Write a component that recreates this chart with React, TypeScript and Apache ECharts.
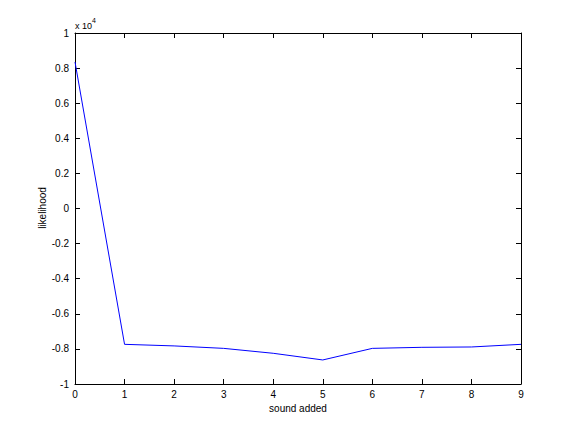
import React, { useEffect, useRef } from "react";
import * as echarts from "echarts";

const xCategories = [0, 1, 2, 3, 4, 5, 6, 7, 8, 9];
const likelihood = [8350, -7740, -7830, -7970, -8250, -8630, -7970, -7910, -7890, -7740];
const xLabel = "sound added";
const yLabel = "likelihood";

const FONT = "Liberation Sans, Arial, Helvetica, sans-serif";

export default function App() {
  const ref = useRef<HTMLDivElement>(null);
  useEffect(() => {
    if (!ref.current) return;
    const chart = echarts.init(ref.current, null, { renderer: "svg" });
    const fmtY = (v: number) => {
      const r = Math.round((v / 10000) * 10) / 10;
      return String(r);
    };
    const axisLine = { show: true, onZero: false, lineStyle: { color: "#000", width: 1 } };
    const tick = { show: true, inside: true, length: 5, lineStyle: { color: "#000" } };
    chart.setOption({
      animation: false,
      backgroundColor: "#fff",
      grid: { left: 75, right: 55, top: 33, bottom: 48, containLabel: false },
      xAxis: [
        {
          type: "value",
          min: 0,
          max: 9,
          interval: 1,
          position: "bottom",
          name: xLabel,
          nameLocation: "middle",
          nameGap: 17,
          nameTextStyle: { fontFamily: FONT, fontSize: 10, color: "#000" },
          axisLine,
          axisTick: tick,
          axisLabel: { fontFamily: FONT, fontSize: 10, color: "#000", margin: 5 },
          splitLine: { show: false },
        },
        {
          type: "value",
          min: 0,
          max: 9,
          interval: 1,
          position: "top",
          axisLine,
          axisTick: tick,
          axisLabel: { show: false },
          splitLine: { show: false },
        },
      ],
      yAxis: [
        {
          type: "value",
          min: -10000,
          max: 10000,
          interval: 2000,
          position: "left",
          axisLine,
          axisTick: tick,
          axisLabel: { fontFamily: FONT, fontSize: 10, color: "#000", margin: 6, formatter: fmtY },
          splitLine: { show: false },
        },
        {
          type: "value",
          min: -10000,
          max: 10000,
          interval: 2000,
          position: "right",
          axisLine,
          axisTick: tick,
          axisLabel: { show: false },
          splitLine: { show: false },
        },
      ],
      graphic: [
        {
          type: "text",
          left: 75,
          top: 17,
          style: {
            text: "{b|x 10}{s|4}",
            rich: {
              b: { fontFamily: FONT, fontSize: 9, fill: "#000", padding: [4, 0, 0, 0] },
              s: { fontFamily: FONT, fontSize: 7, fill: "#000", verticalAlign: "top" },
            },
          },
        },
        {
          type: "text",
          x: 42,
          y: 208,
          rotation: Math.PI / 2,
          style: {
            text: yLabel,
            fontFamily: FONT,
            fontSize: 10,
            fill: "#000",
            align: "center",
            verticalAlign: "middle",
          },
        },
      ],
      series: [
        {
          type: "line",
          xAxisIndex: 0,
          yAxisIndex: 0,
          data: xCategories.map((x, i) => [x, likelihood[i]]),
          showSymbol: false,
          symbol: "none",
          lineStyle: { color: "#0000ff", width: 1 },
        },
      ],
    });
    return () => chart.dispose();
  }, []);
  return <div ref={ref} style={{ position: "fixed", left: 0, top: 0, width: 576, height: 432 }} />;
}
